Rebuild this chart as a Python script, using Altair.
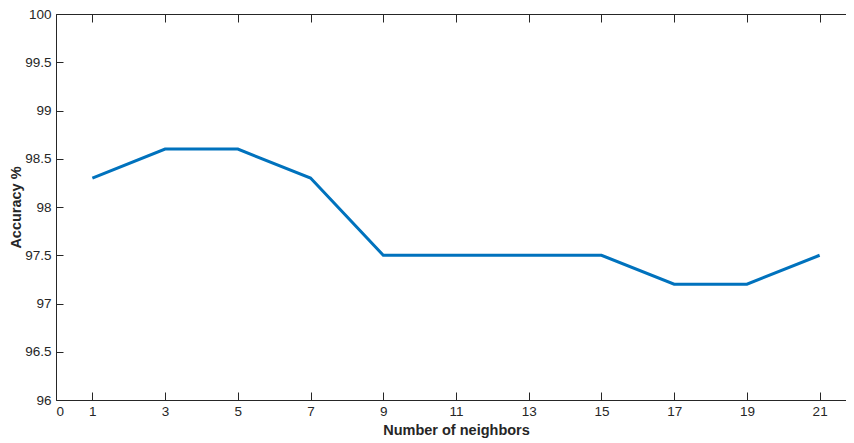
import altair as alt
import pandas as pd

neighbors = [1, 3, 5, 7, 9, 11, 13, 15, 17, 19, 21]
accuracy = [98.3, 98.6, 98.6, 98.3, 97.5, 97.5, 97.5, 97.5, 97.2, 97.2, 97.5]
x_ticks = [0, 1, 3, 5, 7, 9, 11, 13, 15, 17, 19, 21]
y_ticks = [96, 96.5, 97, 97.5, 98, 98.5, 99, 99.5, 100]

df = pd.DataFrame({"k": neighbors, "acc": accuracy})

FONT = "Liberation Sans"
DARK = "#262626"

xscale = alt.Scale(domain=[0, 22], nice=False, zero=False)
yscale = alt.Scale(domain=[96, 100], nice=False, zero=False)

base = alt.Chart(df)

line = base.mark_line(color="#0072BD", strokeWidth=3).encode(
    x=alt.X("k:Q", scale=xscale,
            axis=alt.Axis(orient="bottom", values=x_ticks, title="Number of neighbors",
                          offset=-8, tickSize=8, domain=False, grid=False,
                          labelPadding=4, titlePadding=6)),
    y=alt.Y("acc:Q", scale=yscale,
            axis=alt.Axis(orient="left", values=y_ticks, format=".1~f", title="Accuracy %",
                          offset=-7, tickSize=7, domain=False, grid=False,
                          labelPadding=5, titlePadding=1)),
)

frame = base.mark_line(opacity=0).encode(
    x=alt.X("k:Q", scale=xscale,
            axis=alt.Axis(orient="top", values=x_ticks, labels=False, title="",
                          offset=-8, tickSize=8, domain=False, grid=False)),
    y=alt.Y("acc:Q", scale=yscale,
            axis=alt.Axis(orient="right", values=y_ticks, labels=False, title="",
                          offset=-7, tickSize=7, domain=False, grid=False)),
)

chart = alt.layer(line, frame).resolve_axis(x="independent", y="independent").properties(
    width=800,
    height=386,
    background="white",
    autosize=alt.AutoSizeParams(type="none"),
    padding={"left": 48, "top": 6, "right": -10, "bottom": 43},
).configure_view(
    stroke=DARK, strokeWidth=1
).configure_axis(
    labelFont=FONT, labelFontSize=13.5, labelColor=DARK,
    tickColor=DARK, tickWidth=1,
    titleFont=FONT, titleFontSize=14.5, titleFontWeight="bold", titleColor=DARK,
)

chart.save("out.html", embed_options={"renderer": "svg", "actions": False})
